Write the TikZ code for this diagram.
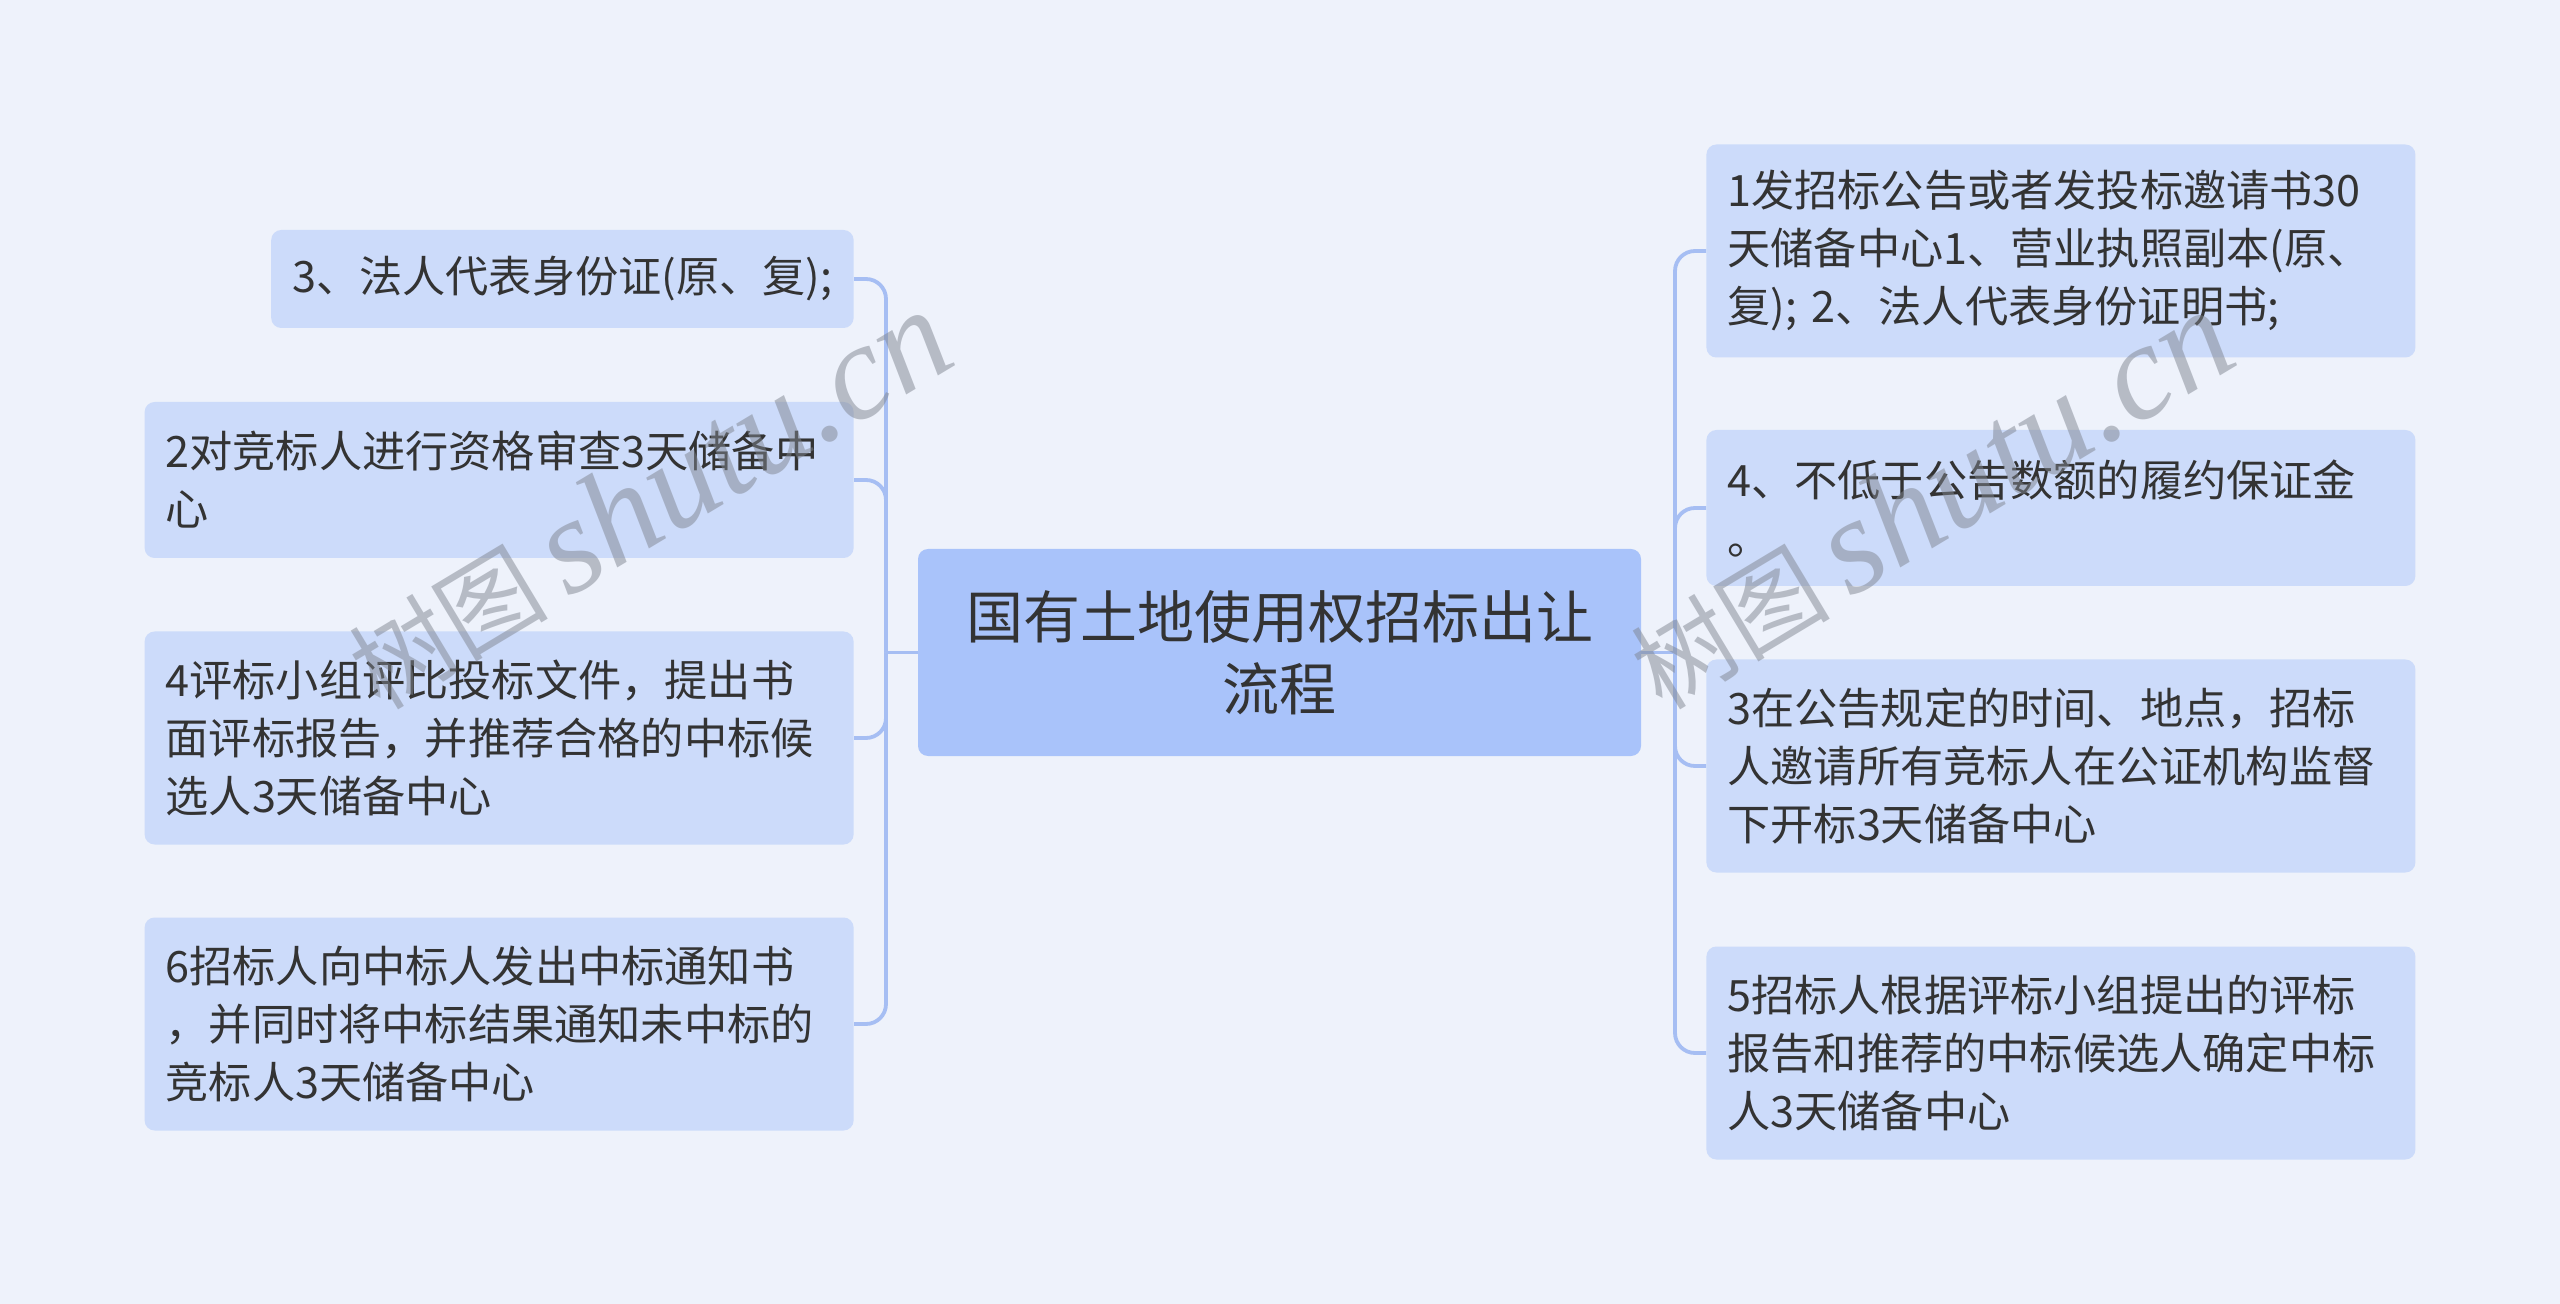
\documentclass[tikz,border=0pt]{standalone}
\usepackage{fontspec}
\newfontfamily\cjk{Noto Sans CJK SC}
\newfontfamily\wmfont{Liberation Serif}
\definecolor{bgc}{HTML}{EEF2FB}
\definecolor{leafc}{HTML}{CCDBFA}
\definecolor{rootc}{HTML}{A9C3FA}
\definecolor{linec}{HTML}{A6BEF3}
\definecolor{txt}{HTML}{333333}
\definecolor{wmc}{HTML}{7F8590}
\begin{document}
\begin{tikzpicture}[x=0.5pt,y=-0.5pt,
  leaf/.style={fill=leafc, rounded corners=5pt, inner xsep=10.5pt, inner ysep=0pt,
    align=left, text=txt, font=\cjk\fontsize{21.6pt}{29pt}\selectfont},
  wide/.style={text width=333.5pt},
  h1/.style={minimum height=49pt},
  h2/.style={minimum height=78pt},
  h3/.style={minimum height=106.5pt},
  rootbox/.style={fill=rootc, rounded corners=5pt, minimum width=361.5pt, minimum height=103.5pt,
    align=center, text=txt, inner sep=0pt, font=\cjk\fontsize{28.5pt}{36pt}\selectfont},
  conn/.style={draw=linec, line width=1.9pt, rounded corners=10pt},
  wm/.style={text=wmc, opacity=0.5, rotate=31, inner sep=0pt}
]
\fill[bgc] (0,0) rectangle (2560,1304);
\useasboundingbox (0,0) rectangle (2560,1304);

\node[rootbox] (root) at (1279.5,652.5) {国有土地使用权招标出让\\流程};

% left children
\node[leaf,h1,anchor=east] (L1) at (854,279) {3、法人代表身份证(原、复);};
\node[leaf,h2,wide,anchor=east] (L2) at (854,480) {2对竞标人进行资格审查3天储备中\\心};
\node[leaf,h3,wide,anchor=east] (L3) at (854,738) {4评标小组评比投标文件，提出书\\面评标报告，并推荐合格的中标候\\选人3天储备中心};
\node[leaf,h3,wide,anchor=east] (L4) at (854,1024) {6招标人向中标人发出中标通知书\\，并同时将中标结果通知未中标的\\竞标人3天储备中心};

% right children
\node[leaf,h3,wide,anchor=west] (R1) at (1706,251) {1发招标公告或者发投标邀请书30\\天储备中心1、营业执照副本(原、\\复); 2、法人代表身份证明书;};
\node[leaf,h2,wide,anchor=west] (R2) at (1706,508) {4、不低于公告数额的履约保证金\\。};
\node[leaf,h3,wide,anchor=west] (R3) at (1706,766) {3在公告规定的时间、地点，招标\\人邀请所有竞标人在公证机构监督\\下开标3天储备中心};
\node[leaf,h3,wide,anchor=west] (R4) at (1706,1053) {5招标人根据评标小组提出的评标\\报告和推荐的中标候选人确定中标\\人3天储备中心};

% connectors
\coordinate (tl) at (886,652.5);
\coordinate (tr) at (1675,652.5);
\draw[conn] (root.west) -- (tl);
\draw[conn] (root.east) -- (tr);
\foreach \n in {L1,L2,L3,L4} { \draw[conn] (tl) |- (\n.east); }
\foreach \n in {R1,R2,R3,R4} { \draw[conn] (tr) |- (\n.west); }

% watermarks
\node[wm] (wm1) at (648,500) {\cjk\fontsize{50pt}{50pt}\selectfont 树图\hspace{10pt}\wmfont\itshape\fontsize{68pt}{68pt}\selectfont shutu.cn};
\node[wm] (wm2) at (1930,500) {\cjk\fontsize{50pt}{50pt}\selectfont 树图\hspace{10pt}\wmfont\itshape\fontsize{68pt}{68pt}\selectfont shutu.cn};
\end{tikzpicture}
\end{document}
